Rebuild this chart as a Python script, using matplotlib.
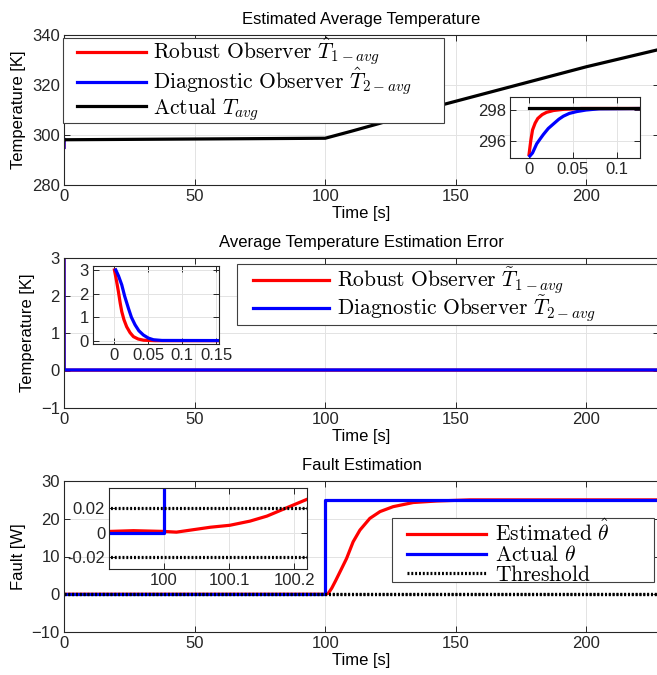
import numpy as np
import matplotlib
matplotlib.use('Agg')
import matplotlib.pyplot as plt
from matplotlib.patches import Rectangle

plt.rcParams['font.family'] = ['Liberation Sans', 'DejaVu Sans']
plt.rcParams['mathtext.fontset'] = 'cm'

# ---------------- data ----------------
# Panel 1: average temperature
t_actual = [0, 100, 110, 121, 146, 167, 200, 227]
T_actual = [298.1, 298.7, 301.5, 304.7, 312.4, 318.2, 327.3, 334.0]
t_robust = [0, 0.002, 0.004, 0.007, 0.010, 0.015, 0.020, 0.028, 0.040, 0.060, 0.13]
T_robust = [295.1, 296.0, 296.7, 297.15, 297.45, 297.7, 297.85, 297.97, 298.05, 298.1, 298.1]
t_diag = [0.001, 0.004, 0.0088, 0.0125, 0.0163, 0.022, 0.028, 0.034, 0.0392,
          0.046, 0.0545, 0.065, 0.08, 0.13]
T_diag = [295.0, 295.2, 295.8, 296.1, 296.4, 296.8, 297.1, 297.4, 297.6,
          297.78, 297.9, 298.0, 298.08, 298.1]

# Panel 2: estimation error
t_err_robust = [0, 0.003, 0.0059, 0.0085, 0.0108, 0.014, 0.018, 0.023, 0.028,
                0.035, 0.043, 0.06, 0.16, 227]
err_robust = [3.0, 2.55, 2.08, 1.6, 1.24, 0.9, 0.6, 0.35, 0.18,
              0.08, 0.03, 0.01, 0.01, 0.01]
t_err_diag = [0.002, 0.006, 0.0108, 0.015, 0.0206, 0.025, 0.0304, 0.036, 0.0426,
              0.05, 0.0574, 0.07, 0.16, 227]
err_diag = [3.0, 2.75, 2.37, 1.9, 1.38, 1.0, 0.68, 0.43, 0.25,
            0.12, 0.05, 0.02, 0.015, 0.015]

# Panel 3: fault estimation
t_theta = [0, 100, 100, 227]
theta_actual = [0, 0, 25, 25]
t_theta_hat = [0, 100, 101.2, 102.5, 104, 106, 108.2, 110.7, 113.3, 117.1, 121,
               126, 133.7, 142.7, 155.4, 227]
theta_hat = [0, 0, 0.25, 1.6, 3.6, 6.4, 9.5, 13.9, 17.0, 20.1, 21.9,
             23.2, 24.3, 24.7, 25.0, 25.0]
t_theta_hat_zoom = [99.917, 99.953, 99.999, 100.019, 100.045, 100.071, 100.101,
                    100.132, 100.158, 100.183, 100.219]
theta_hat_zoom = [0.0011, 0.0017, 0.0011, 0.0005, 0.0025, 0.0045, 0.0061,
                  0.0095, 0.0136, 0.0192, 0.0272]
threshold = 0.02

# ---------------- figure ----------------
W, H = 657, 675
fig = plt.figure(figsize=(W / 100, H / 100), dpi=100)

def px_axes(x0, y0, x1, y1):
    return fig.add_axes([x0 / W, 1 - y1 / H, (x1 - x0) / W, (y1 - y0) / H])

SPINE = '#262626'
GRID = '#e3e3e3'
RED = '#ff0000'
BLUE = '#0000ff'
FS = 12
LFS = 15.5
LW = 2.3
DOT = (0, (0.6, 0.6))

def style(ax, fs=FS):
    ax.grid(True, color=GRID, lw=0.7)
    ax.set_axisbelow(True)
    ax.tick_params(direction='in', length=4.5, width=0.7, top=True, right=True,
                   labelsize=fs, colors=SPINE, pad=3)
    for s in ax.spines.values():
        s.set_color(SPINE)
        s.set_linewidth(0.8)

def labels(ax, title, ylabel):
    ax.set_title(title, fontsize=FS, pad=8)
    ax.set_xlabel('Time [s]', fontsize=FS, labelpad=1)
    ax.set_ylabel(ylabel, fontsize=FS, labelpad=4)

def legend(ax, handles_labels, box, hx, y_top, hl_px, spacing, tpad):
    x0, y0, x1, y1 = box
    ax.add_patch(Rectangle((x0 / W, 1 - y1 / H), (x1 - x0) / W, (y1 - y0) / H,
                           transform=fig.transFigure, facecolor='white',
                           edgecolor='#404040', lw=0.8, zorder=19, clip_on=False))
    hs = [h for h, _ in handles_labels]
    ls = [l for _, l in handles_labels]
    leg = ax.legend(hs, ls, loc='upper left', bbox_to_anchor=(hx / W, 1 - y_top / H),
                    bbox_transform=fig.transFigure, borderaxespad=0, borderpad=0,
                    fontsize=LFS, frameon=False, handlelength=hl_px / (LFS * 100 / 72),
                    labelspacing=spacing, handletextpad=tpad)
    leg.set_zorder(20)
    return leg

xticks = [0, 50, 100, 150, 200]

# ---- Panel 1 ----
ax1 = px_axes(64, 35, 659, 185)
h_r, = ax1.plot(t_robust, T_robust, color=RED, lw=LW)
h_b, = ax1.plot(t_diag, T_diag, color=BLUE, lw=LW)
h_k, = ax1.plot(t_actual, T_actual, color='black', lw=LW)
ax1.set_xlim(0, 227.8)
ax1.set_ylim(280, 340)
ax1.set_xticks(xticks)
ax1.set_yticks([280, 300, 320, 340])
style(ax1)
labels(ax1, 'Estimated Average Temperature', 'Temperature [K]')
legend(ax1, [(h_r, r'$\mathrm{Robust\ Observer}\ \hat{T}_{1-avg}$'),
             (h_b, r'$\mathrm{Diagnostic\ Observer}\ \hat{T}_{2-avg}$'),
             (h_k, r'$\mathrm{Actual}\ T_{avg}$')],
       (63, 38, 444, 123), 77, 36, 69, -0.1, 0.33)

in1 = px_axes(510, 97, 640, 158)
in1.plot(t_robust, T_robust, color=RED, lw=LW)
in1.plot(t_diag, T_diag, color=BLUE, lw=LW)
in1.plot([0, 0.13], [T_actual[0], T_actual[0]], color='black', lw=LW)
in1.set_xlim(-0.0217, 0.1266)
in1.set_ylim(294.87, 298.85)
in1.set_xticks([0, 0.05, 0.1])
in1.set_xticklabels(['0', '0.05', '0.1'])
in1.set_yticks([296, 298])
style(in1)

# ---- Panel 2 ----
ax2 = px_axes(64, 258, 659, 408)
g_r, = ax2.plot(t_err_robust, err_robust, color=RED, lw=LW)
g_b, = ax2.plot(t_err_diag, err_diag, color=BLUE, lw=LW)
ax2.set_xlim(0, 227.8)
ax2.set_ylim(-1, 3)
ax2.set_xticks(xticks)
ax2.set_yticks([-1, 0, 1, 2, 3])
style(ax2)
labels(ax2, 'Average Temperature Estimation Error', 'Temperature [K]')
legend(ax2, [(g_r, r'$\mathrm{Robust\ Observer}\ \tilde{T}_{1-avg}$'),
             (g_b, r'$\mathrm{Diagnostic\ Observer}\ \tilde{T}_{2-avg}$')],
       (237, 264, 670, 325), 253, 266, 76, -0.13, 0.37)

in2 = px_axes(92.7, 265.7, 219, 344)
in2.plot(t_err_robust, err_robust, color=RED, lw=LW)
in2.plot(t_err_diag, err_diag, color=BLUE, lw=LW)
in2.set_xlim(-0.032, 0.154)
in2.set_ylim(-0.13, 3.18)
in2.set_xticks([0, 0.05, 0.1, 0.15])
in2.set_xticklabels(['0', '0.05', '0.1', '0.15'])
in2.set_yticks([0, 1, 2, 3])
style(in2)

# ---- Panel 3 ----
ax3 = px_axes(64, 481, 659, 632)
k_r, = ax3.plot(t_theta_hat, theta_hat, color=RED, lw=LW)
k_b, = ax3.plot(t_theta, theta_actual, color=BLUE, lw=LW)
k_t, = ax3.plot([0, 227.8], [threshold, threshold], color='black', lw=LW, ls=DOT)
ax3.plot([0, 227.8], [-threshold, -threshold], color='black', lw=LW, ls=DOT)
ax3.set_xlim(0, 227.8)
ax3.set_ylim(-10, 30)
ax3.set_xticks(xticks)
ax3.set_yticks([-10, 0, 10, 20, 30])
style(ax3)
labels(ax3, 'Fault Estimation', 'Fault [W]')
legend(ax3, [(k_r, r'$\mathrm{Estimated}\ \hat{\theta}$'),
             (k_b, r'$\mathrm{Actual}\ \theta$'),
             (k_t, r'$\mathrm{Threshold}$')],
       (392, 518, 654, 582), 407, 520, 79, -0.05, 0.42)

in3 = px_axes(109.3, 488.3, 306.7, 569)
in3.plot(t_theta_hat_zoom, theta_hat_zoom, color=RED, lw=LW)
in3.plot([99.9, 100, 100, 100.22], [0, 0, 25, 25], color=BLUE, lw=LW)
in3.plot([99.9, 100.22], [threshold, threshold], color='black', lw=LW, ls=DOT)
in3.plot([99.9, 100.22], [-threshold, -threshold], color='black', lw=LW, ls=DOT)
in3.set_xlim(99.916, 100.219)
in3.set_ylim(-0.0296, 0.0363)
in3.set_xticks([100, 100.1, 100.2])
in3.set_xticklabels(['100', '100.1', '100.2'])
in3.set_yticks([-0.02, 0, 0.02])
in3.set_yticklabels(['-0.02', '0', '0.02'])
style(in3)

fig.savefig('out.png', dpi=100)
